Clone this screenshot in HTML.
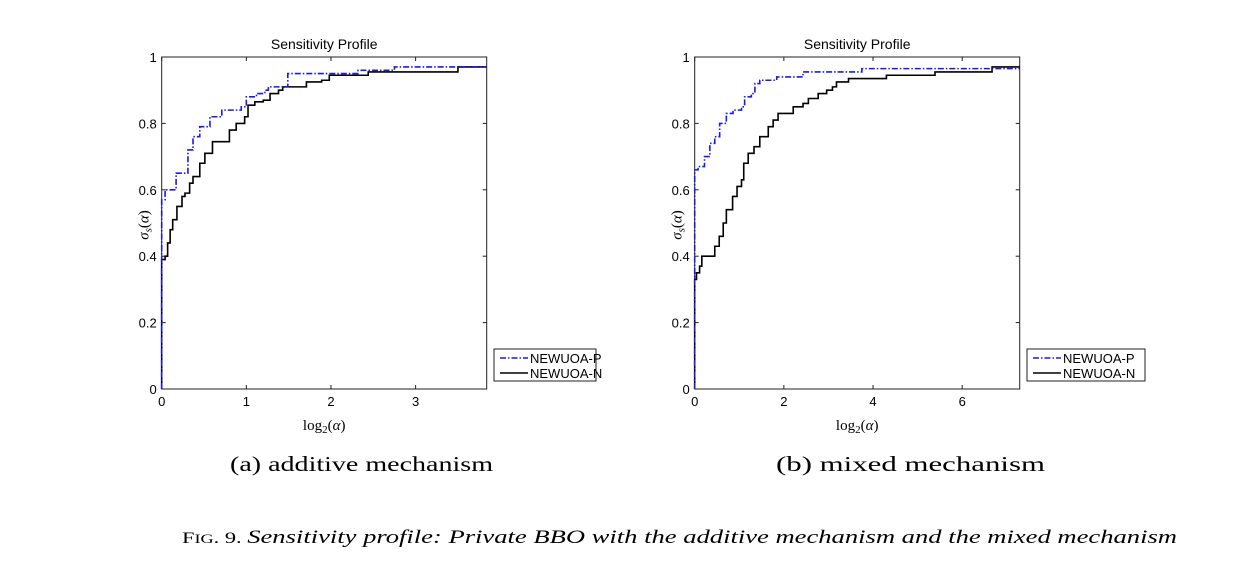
<!DOCTYPE html>
<html><head><meta charset="utf-8"><style>
body{margin:0;background:#fff;}
svg{display:block;font-family:"Liberation Sans",sans-serif;}
.serif{font-family:"Liberation Serif",serif;}
</style></head><body>
<svg id="fig" width="1238" height="577" viewBox="0 0 1238 577"></svg>
<script>
// Panel (a) additive mechanism
const aBlueX=[0,0.04,0.17,0.31,0.37,0.45,0.57,0.71,0.94,1.0,1.12,1.22,1.26,1.49,2.32,2.75];
const aBlueY=[0.57,0.60,0.65,0.72,0.76,0.79,0.82,0.84,0.85,0.88,0.89,0.90,0.91,0.95,0.96,0.97];
const aBlackX=[0,0.04,0.07,0.10,0.13,0.18,0.24,0.275,0.33,0.37,0.45,0.51,0.60,0.80,0.88,0.98,1.02,1.10,1.20,1.28,1.38,1.43,1.71,1.89,1.98,2.44,3.50];
const aBlackY=[0.39,0.40,0.44,0.48,0.51,0.55,0.58,0.59,0.62,0.64,0.68,0.71,0.745,0.78,0.80,0.82,0.855,0.865,0.87,0.89,0.90,0.91,0.925,0.93,0.945,0.955,0.97];
// Panel (b) mixed mechanism
const bBlueX=[0,0.075,0.22,0.34,0.45,0.56,0.71,0.86,1.05,1.12,1.27,1.35,1.46,1.84,2.43,3.75];
const bBlueY=[0.66,0.67,0.70,0.74,0.76,0.80,0.83,0.84,0.85,0.88,0.89,0.92,0.93,0.94,0.955,0.965];
const bBlackX=[0,0.04,0.11,0.16,0.45,0.55,0.64,0.71,0.85,0.95,1.05,1.10,1.20,1.33,1.46,1.65,1.76,1.87,2.21,2.43,2.55,2.77,2.96,3.09,3.18,3.45,4.30,5.39,6.67];
const bBlackY=[0.33,0.35,0.37,0.40,0.43,0.46,0.50,0.54,0.58,0.61,0.63,0.68,0.71,0.73,0.76,0.79,0.81,0.83,0.85,0.86,0.875,0.89,0.90,0.91,0.925,0.935,0.945,0.955,0.97];
const yTicks=[0,0.2,0.4,0.6,0.8,1];
const aXTicks=[0,1,2,3];
const bXTicks=[0,2,4,6];

const NS="http://www.w3.org/2000/svg";
const svg=document.getElementById('fig');
function mk(tag,attrs,parent){const e=document.createElementNS(NS,tag);for(const k in attrs)e.setAttribute(k,attrs[k]);(parent||svg).appendChild(e);return e;}

function panel(id,x0,x1,xmax,xTicks,blueX,blueY,blackX,blackY,caption,capX,capW,legX,legW){
  const y0=389,y1=57;
  const g=mk('g',{});
  
  
  const sx=v=>x0+(x1-x0)*v/xmax, sy=v=>y0+(y1-y0)*v;
  const t=mk('text',{x:(x0+x1)/2,y:49,'text-anchor':'middle','font-size':14},g);t.textContent='Sensitivity Profile';
  
  const ax=mk('rect',{x:x0,y:y1,width:x1-x0,height:y0-y1,fill:'none',stroke:'#222','stroke-width':1},g);
  
  yTicks.forEach(v=>{
    const y=sy(v);
    mk('line',{x1:x0,x2:x0+4,y1:y,y2:y,stroke:'#222'},g);
    mk('line',{x1:x1,x2:x1-4,y1:y,y2:y,stroke:'#222'},g);
    const l=mk('text',{x:x0-5,y:y+5,'text-anchor':'end','font-size':13},g);l.textContent=String(v);
    
  });
  xTicks.forEach(v=>{
    const x=sx(v);
    mk('line',{x1:x,x2:x,y1:y0,y2:y0-4,stroke:'#222'},g);
    mk('line',{x1:x,x2:x,y1:y1,y2:y1+4,stroke:'#222'},g);
    const l=mk('text',{x:x,y:y0+17,'text-anchor':'middle','font-size':13},g);l.textContent=String(v);
    
  });
  function step(xs,ys){
    let d='M'+sx(xs[0])+','+sy(0)+' L'+sx(xs[0])+','+sy(ys[0]);
    for(let i=1;i<xs.length;i++){d+=' L'+sx(xs[i])+','+sy(ys[i-1])+' L'+sx(xs[i])+','+sy(ys[i]);}
    d+=' L'+x1+','+sy(ys[ys.length-1]);return d;
  }
  const pk=mk('path',{d:step(blackX,blackY),fill:'none',stroke:'#000','stroke-width':1.6},g);
  
  const pb=mk('path',{d:step(blueX,blueY),fill:'none',stroke:'#1a1ae6','stroke-width':1.6,'stroke-dasharray':'6,2,1.5,2'},g);
  
  const yl=mk('text',{x:0,y:0,'text-anchor':'middle','font-size':15,class:'serif',transform:'translate('+(x0-13)+',225) rotate(-90)'},g);
  yl.innerHTML='<tspan font-style="italic">σ</tspan><tspan font-style="italic" font-size="11" dy="3">s</tspan><tspan dy="-3">(</tspan><tspan font-style="italic">α</tspan><tspan>)</tspan>';
  
  const xl=mk('text',{x:(x0+x1)/2,y:430,'text-anchor':'middle','font-size':15,class:'serif'},g);
  xl.innerHTML='log<tspan font-size="11" dy="3">2</tspan><tspan dy="-3">(</tspan><tspan font-style="italic">α</tspan>)';
  
  const cap=mk('text',{x:capX,y:471,'font-size':21,class:'serif',textLength:capW,lengthAdjust:'spacingAndGlyphs'},g);
  cap.textContent=caption;
  const lg=mk('g',{},g);
  mk('rect',{x:legX,y:349,width:legW,height:32,fill:'#fff',stroke:'#222'},lg);
  mk('line',{x1:legX+6,x2:legX+34,y1:358,y2:358,stroke:'#1a1ae6','stroke-width':1.6,'stroke-dasharray':'6,2,1.5,2'},lg);
  mk('line',{x1:legX+6,x2:legX+34,y1:373,y2:373,stroke:'#000','stroke-width':1.6},lg);
  const e1=mk('text',{x:legX+36,y:363,'font-size':13},lg);e1.textContent='NEWUOA-P';
  
  const e2=mk('text',{x:legX+36,y:378,'font-size':13},lg);e2.textContent='NEWUOA-N';
  
}
panel('panel-additive',161.7,486.7,3.84,aXTicks,aBlueX,aBlueY,aBlackX,aBlackY,'(a) additive mechanism',230,263,494,102);
panel('panel-mixed',694.7,1019.7,7.29,bXTicks,bBlueX,bBlueY,bBlackX,bBlackY,'(b) mixed mechanism',776,269,1027,118);
const fc=mk('text',{x:182,y:543,'font-size':19,class:'serif',textLength:995,lengthAdjust:'spacingAndGlyphs'});

fc.innerHTML='<tspan font-size="16">F</tspan><tspan font-size="13">IG</tspan><tspan font-size="16">. 9. </tspan><tspan font-style="italic">Sensitivity profile: Private BBO with the additive mechanism and the mixed mechanism</tspan>';
</script>
</body></html>
